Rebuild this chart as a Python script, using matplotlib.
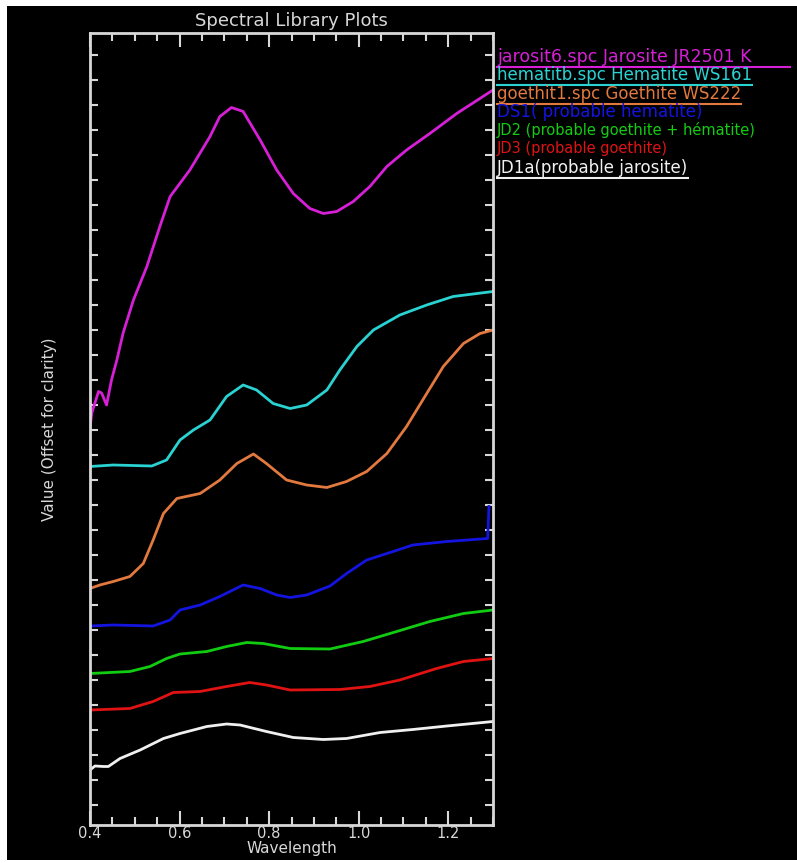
import matplotlib
matplotlib.use('Agg')
import matplotlib.pyplot as plt
from matplotlib.patches import Rectangle
from matplotlib.lines import Line2D
from matplotlib.ticker import MultipleLocator

# === 数据 (从图上读出的波长 / 偏移后的数值) ===
jarosite_x = [0.40, 0.404, 0.419, 0.426, 0.437, 0.448, 0.460, 0.474, 0.497, 0.527,
              0.556, 0.579, 0.623, 0.668, 0.690, 0.716, 0.742, 0.780, 0.817, 0.854,
              0.891, 0.921, 0.951, 0.988, 1.025, 1.063, 1.107, 1.159, 1.219, 1.30]
jarosite_y = [0.753, 0.784, 0.827, 0.824, 0.800, 0.850, 0.890, 0.944, 1.010, 1.077,
              1.157, 1.217, 1.270, 1.337, 1.377, 1.395, 1.387, 1.330, 1.270, 1.223,
              1.193, 1.183, 1.187, 1.207, 1.237, 1.277, 1.310, 1.343, 1.383, 1.430]

hematite_x = [0.40, 0.452, 0.538, 0.571, 0.601, 0.631, 0.668, 0.705, 0.742, 0.772,
              0.809, 0.847, 0.884, 0.929, 0.958, 0.996, 1.033, 1.092, 1.152, 1.211, 1.30]
hematite_y = [0.677, 0.680, 0.678, 0.690, 0.730, 0.750, 0.770, 0.817, 0.840, 0.830,
              0.803, 0.793, 0.800, 0.830, 0.870, 0.917, 0.950, 0.980, 1.000, 1.017, 1.027]

goethite_x = [0.40, 0.422, 0.452, 0.489, 0.519, 0.541, 0.564, 0.594, 0.646, 0.690,
              0.728, 0.765, 0.794, 0.839, 0.884, 0.929, 0.973, 1.018, 1.063, 1.107,
              1.152, 1.189, 1.234, 1.271, 1.30]
goethite_y = [0.433, 0.440, 0.447, 0.457, 0.483, 0.530, 0.583, 0.613, 0.623, 0.650,
              0.683, 0.702, 0.683, 0.650, 0.640, 0.635, 0.647, 0.667, 0.703, 0.757,
              0.823, 0.877, 0.923, 0.943, 0.950]

ds1_x = [0.40, 0.452, 0.541, 0.579, 0.601, 0.646, 0.690, 0.742, 0.780, 0.817,
         0.847, 0.884, 0.936, 0.973, 1.018, 1.077, 1.121, 1.197, 1.288, 1.291]
ds1_y = [0.358, 0.360, 0.358, 0.370, 0.390, 0.400, 0.417, 0.440, 0.433, 0.420,
         0.415, 0.420, 0.438, 0.463, 0.490, 0.507, 0.520, 0.527, 0.533, 0.597]

jd2_x = [0.40, 0.489, 0.534, 0.571, 0.601, 0.661, 0.705, 0.750, 0.787, 0.847,
         0.936, 1.010, 1.085, 1.159, 1.234, 1.30]
jd2_y = [0.263, 0.267, 0.277, 0.293, 0.302, 0.307, 0.317, 0.325, 0.323, 0.313,
         0.312, 0.327, 0.347, 0.367, 0.383, 0.390]

jd3_x = [0.40, 0.489, 0.541, 0.586, 0.646, 0.705, 0.757, 0.794, 0.847, 0.958,
         1.025, 1.092, 1.174, 1.234, 1.30]
jd3_y = [0.190, 0.193, 0.207, 0.225, 0.227, 0.237, 0.245, 0.240, 0.230, 0.231,
         0.237, 0.250, 0.273, 0.287, 0.293]

jd1a_x = [0.40, 0.411, 0.430, 0.441, 0.467, 0.512, 0.564, 0.601, 0.661, 0.705,
          0.735, 0.794, 0.854, 0.921, 0.973, 1.048, 1.121, 1.197, 1.30]
jd1a_y = [0.070, 0.078, 0.077, 0.077, 0.093, 0.110, 0.133, 0.143, 0.157, 0.162,
          0.160, 0.147, 0.135, 0.131, 0.133, 0.145, 0.151, 0.158, 0.167]

labels = ['jarosit6.spc Jarosite JR2501 K',
          'hematitb.spc Hematite WS161',
          'goethit1.spc Goethite WS222',
          'DS1( probable hematite)',
          'JD2 (probable goethite + hématite)',
          'JD3 (probable goethite)',
          'JD1a(probable jarosite)']
colors = ['#d61fd6', '#2ad2d2', '#e2793f', '#1414e0', '#12cc12', '#e01212', '#f0f0f0']
underlined = [True, True, True, False, False, False, True]
label_sizes = [12.5, 12, 12, 12, 10.5, 10.5, 12]

series = [(jarosite_x, jarosite_y), (hematite_x, hematite_y), (goethite_x, goethite_y),
          (ds1_x, ds1_y), (jd2_x, jd2_y), (jd3_x, jd3_y), (jd1a_x, jd1a_y)]

AXIS_COLOR = '#d8d8d8'

fig = plt.figure(figsize=(7.97, 8.63), dpi=100)
fig.patch.set_facecolor('white')
# 黑色背景区域 (原图四周有细白边)
fig.patches.append(Rectangle((7 / 797, 3 / 863), 790 / 797, 854 / 863,
                             transform=fig.transFigure, facecolor='black',
                             edgecolor='none', zorder=-10))

ax = fig.add_axes([90 / 797, 38 / 863, 403 / 797, 792 / 863])
ax.set_facecolor('black')

for (xs, ys), c in zip(series, colors):
    ax.plot(xs, ys, color=c, linewidth=2.0, solid_joinstyle='round')

ax.set_xlim(0.4, 1.3)
ax.set_ylim(-0.04, 1.544)

for sp in ax.spines.values():
    sp.set_color(AXIS_COLOR)
    sp.set_linewidth(2)

ax.xaxis.set_minor_locator(MultipleLocator(0.05))
ax.yaxis.set_major_locator(MultipleLocator(0.05))
ax.set_xticks([0.4, 0.6, 0.8, 1.0, 1.2])
ax.set_xticklabels(['0.4', '0.6', '0.8', '1.0', '1.2'])
ax.tick_params(axis='x', which='major', direction='in', length=10, width=1.5,
               color=AXIS_COLOR, top=True, labelcolor=AXIS_COLOR, labelsize=10.5, pad=1)
ax.tick_params(axis='x', which='minor', direction='in', length=6, width=1.5,
               color=AXIS_COLOR, top=True)
ax.tick_params(axis='y', which='major', direction='in', length=6, width=1.5,
               color=AXIS_COLOR, right=True, labelleft=False)

ax.set_xlabel('Wavelength', color=AXIS_COLOR, fontsize=11, labelpad=0)
ax.set_ylabel('Value (Offset for clarity)', color=AXIS_COLOR, fontsize=11, labelpad=24)
ax.set_title('Spectral Library Plots', color=AXIS_COLOR, fontsize=13, pad=5)

# 右侧图例文字
row_y = [57, 75, 94, 112, 130, 148, 168]
texts = []
for lab, c, ypx, fs in zip(labels, colors, row_y, label_sizes):
    t = fig.text(497 / 797, 1 - ypx / 863, lab, color=c, fontsize=fs,
                 ha='left', va='center')
    texts.append(t)

fig.canvas.draw()
renderer = fig.canvas.get_renderer()
for i, (t, c, ul) in enumerate(zip(texts, colors, underlined)):
    if not ul:
        continue
    bb = t.get_window_extent(renderer).transformed(fig.transFigure.inverted())
    yline = bb.y0 - 1 / 863
    x_end = 790 / 797 if i == 0 else bb.x1  # 第一行下划线较长
    fig.lines.append(Line2D([bb.x0, x_end], [yline, yline],
                            transform=fig.transFigure, color=c, linewidth=1.5))

plt.savefig('out.png', dpi=100, facecolor=fig.get_facecolor())
